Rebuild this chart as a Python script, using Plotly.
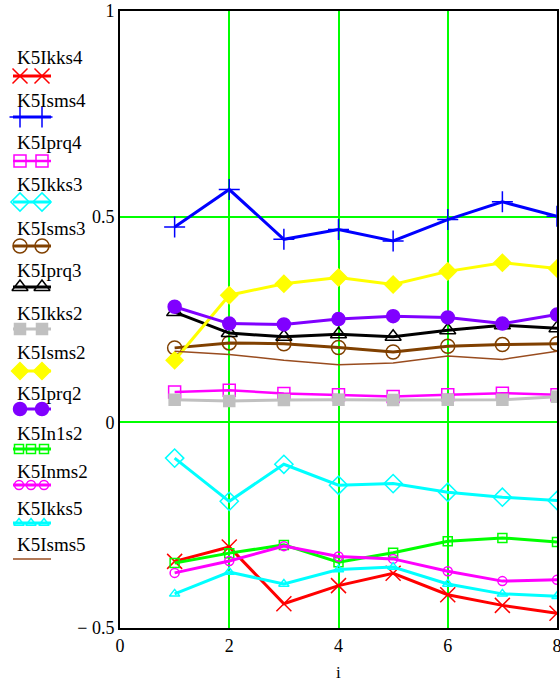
import plotly.graph_objects as go

i_vals = [1, 2, 3, 4, 5, 6, 7, 8]

K5Ikks4 = [-0.338, -0.303, -0.441, -0.397, -0.367, -0.419, -0.445, -0.464]
K5Isms4 = [0.475, 0.566, 0.445, 0.469, 0.441, 0.493, 0.536, 0.501]
K5Iprq4 = [0.074, 0.078, 0.070, 0.067, 0.063, 0.067, 0.071, 0.067]
K5Ikks3 = [-0.087, -0.192, -0.102, -0.153, -0.149, -0.170, -0.182, -0.190]
K5Isms3 = [0.181, 0.193, 0.191, 0.182, 0.171, 0.185, 0.189, 0.191]
K5Iprq3 = [0.268, 0.217, 0.208, 0.214, 0.208, 0.224, 0.236, 0.229]
K5Ikks2 = [0.055, 0.052, 0.054, 0.055, 0.054, 0.055, 0.055, 0.062]
K5Isms2 = [0.151, 0.309, 0.337, 0.352, 0.335, 0.367, 0.388, 0.374]
K5Iprq2 = [0.281, 0.240, 0.238, 0.251, 0.258, 0.255, 0.240, 0.262]
K5In1s2 = [-0.342, -0.318, -0.298, -0.340, -0.317, -0.289, -0.281, -0.291]
K5Inms2 = [-0.366, -0.337, -0.301, -0.326, -0.332, -0.362, -0.386, -0.383]
K5Ikks5 = [-0.417, -0.364, -0.393, -0.358, -0.352, -0.393, -0.417, -0.423]
K5Isms5 = [0.173, 0.165, 0.151, 0.140, 0.144, 0.161, 0.153, 0.173]

names = ["K5Ikks4", "K5Isms4", "K5Iprq4", "K5Ikks3", "K5Isms3", "K5Iprq3",
         "K5Ikks2", "K5Isms2", "K5Iprq2", "K5In1s2", "K5Inms2", "K5Ikks5", "K5Isms5"]
series = [K5Ikks4, K5Isms4, K5Iprq4, K5Ikks3, K5Isms3, K5Iprq3,
          K5Ikks2, K5Isms2, K5Iprq2, K5In1s2, K5Inms2, K5Ikks5, K5Isms5]

# style: color, line width, symbol, marker size, legend marker count
styles = [
    ("#ff0000", 3, "x-thin-open", 15, 2),
    ("#0000ff", 3, "cross-thin-open", 15, 2),
    ("#ff00ff", 2.5, "square-open", 12, 2),
    ("#00ffff", 3, "diamond-open", 14, 2),
    ("#804000", 3, "circle-open", 14, 2),
    ("#000000", 3, "triangle-up-open", 14, 2),
    ("#c0c0c0", 3, "square", 11, 2),
    ("#ffff00", 3, "diamond", 13, 2),
    ("#8000ff", 3, "circle", 13, 2),
    ("#00ff00", 3, "square-open", 9, 3),
    ("#ff00ff", 3, "circle-open", 9, 3),
    ("#00ffff", 3, "triangle-up-open", 9, 3),
    ("#994c1f", 1.5, None, 0, 0),
]

# legend layout (pixel positions within left legend area)
leg_text_y = [57, 100, 142, 184, 228, 270, 313, 352, 393, 433, 471, 508, 544]
leg_line_y = [76, 117, 161, 202, 246, 287, 329, 371, 409, 449, 485, 523, 559]

serif = "Liberation Serif, Times New Roman, DejaVu Serif, serif"

fig = go.Figure()

for nm, ys, (col, lw, sym, ms, nmk) in zip(names, series, styles):
    if sym is None:
        fig.add_trace(go.Scatter(x=i_vals, y=ys, mode="lines", name=nm,
                                 line=dict(color=col, width=lw), showlegend=False))
    else:
        fig.add_trace(go.Scatter(x=i_vals, y=ys, mode="lines+markers", name=nm,
                                 line=dict(color=col, width=lw),
                                 marker=dict(symbol=sym, size=ms, color=col,
                                             line=dict(color=col, width=1.5)),
                                 showlegend=False))

# legend samples on an auxiliary pixel-like axis (left margin area)
for nm, (col, lw, sym, ms, nmk), ty, ly in zip(names, styles, leg_text_y, leg_line_y):
    fig.add_trace(go.Scatter(x=[13, 51], y=[ly, ly], mode="lines", xaxis="x2", yaxis="y2",
                             line=dict(color=col, width=lw), showlegend=False, hoverinfo="skip"))
    if nmk == 2:
        mx = [20, 42]
    elif nmk == 3:
        mx = [19, 31, 44]
    else:
        mx = []
    if mx:
        fig.add_trace(go.Scatter(x=mx, y=[ly] * len(mx), mode="markers", xaxis="x2", yaxis="y2",
                                 marker=dict(symbol=sym, size=ms, color=col,
                                             line=dict(color=col, width=1.5)),
                                 showlegend=False, hoverinfo="skip"))
    fig.add_annotation(x=15, y=ty, xref="x2", yref="y2", text=nm, showarrow=False,
                       xanchor="left", yanchor="middle",
                       font=dict(family=serif, size=19, color="black"))

# x-axis title
fig.add_annotation(x=339 / 557, y=(628 - 672) / 617, xref="paper", yref="paper", text="i",
                   showarrow=False, xanchor="center", yanchor="middle",
                   font=dict(family=serif, size=17, color="black"))

fig.update_layout(
    width=560, height=682,
    margin=dict(l=0, r=3, t=11, b=54, autoexpand=False),
    paper_bgcolor="white", plot_bgcolor="rgba(0,0,0,0)",
    font=dict(family=serif, size=17, color="black"),
    xaxis=dict(domain=[120 / 557, 1], range=[0, 8], tickvals=[0, 2, 4, 6, 8],
               ticktext=["0", "2", "4", "6", "8"], automargin=False,
               ticklabeloverflow="allow",
               showgrid=True, gridcolor="#00ff00", gridwidth=1.5,
               zeroline=False, showline=True, linecolor="black", linewidth=2, mirror=True,
               ticks="", tickfont=dict(family=serif, size=18)),
    yaxis=dict(range=[-0.5, 1], tickvals=[-0.5, 0, 0.5, 1],
               ticktext=["\u2212 0.5", "0", "0.5", "1"], automargin=False,
               ticklabeloverflow="allow",
               showgrid=True, gridcolor="#00ff00", gridwidth=1.5,
               zeroline=False, showline=True, linecolor="black", linewidth=2, mirror=True,
               ticks="", tickfont=dict(family=serif, size=18)),
    xaxis2=dict(domain=[0, 100 / 557], range=[0, 100], visible=False, fixedrange=True,
                automargin=False),
    yaxis2=dict(domain=[0, 1], range=[628, 11], visible=False, anchor="x2", fixedrange=True,
                automargin=False),
)

fig.write_html(
    "out.html",
    config={"displayModeBar": False},
    post_script="document.body.style.margin='0';document.body.style.overflow='hidden';",
)
